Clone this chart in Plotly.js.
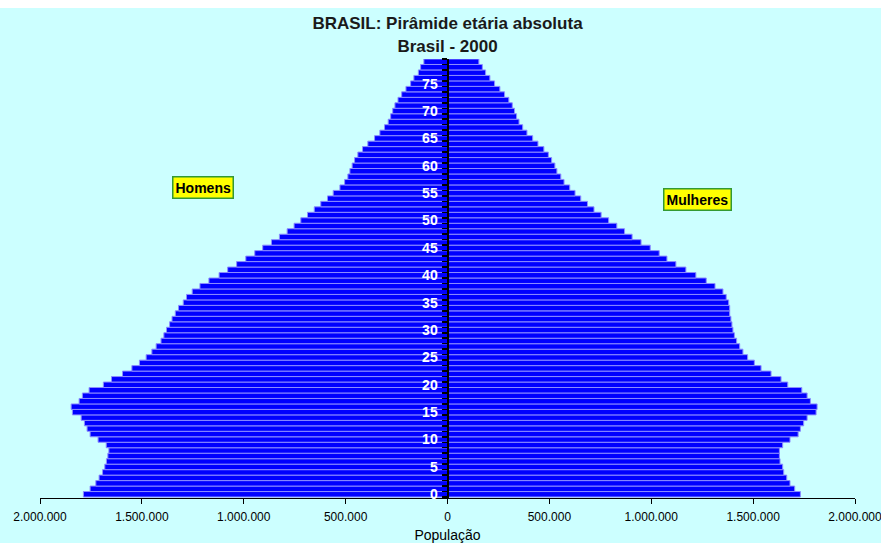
<!DOCTYPE html>
<html>
<head>
<meta charset="utf-8">
<script src="https://cdn.plot.ly/plotly-3.0.1.min.js"></script>
<style>
  html, body { margin: 0; padding: 0; background: #ffffff; width: 881px; height: 547px; overflow: hidden; }
  #chart { position: absolute; left: 0; top: 8px; width: 881px; height: 535px; }
</style>
</head>
<body>
<div id="chart"></div>
<script>
const ages = [0,1,2,3,4,5,6,7,8,9,10,11,12,13,14,15,16,17,18,19,20,21,22,23,24,25,26,27,28,29,
  30,31,32,33,34,35,36,37,38,39,40,41,42,43,44,45,46,47,48,49,50,51,52,53,54,55,56,57,58,59,
  60,61,62,63,64,65,66,67,68,69,70,71,72,73,74,75,76,77,78,79];

const homens = [
  1787000,1754000,1726000,1710000,1693000,1682000,1674000,1667000,1662000,1675000,
  1715000,1754000,1769000,1782000,1798000,1841000,1847000,1808000,1792000,1759000,
  1689000,1649000,1595000,1549000,1512000,1479000,1451000,1430000,1406000,1392000,
  1379000,1364000,1352000,1336000,1320000,1297000,1281000,1253000,1215000,1171000,
  1121000,1079000,1035000,990000,946000,907000,864000,825000,787000,753000,
  720000,687000,654000,622000,589000,561000,528000,505000,489000,479000,
  468000,456000,440000,417000,391000,358000,332000,309000,291000,279000,
  269000,258000,243000,225000,204000,181000,165000,143000,132000,116000];

const mulheres = [
  1732000,1704000,1681000,1665000,1650000,1645000,1632000,1629000,1629000,1645000,
  1681000,1721000,1732000,1748000,1765000,1809000,1814000,1781000,1765000,1739000,
  1670000,1637000,1588000,1539000,1506000,1473000,1450000,1434000,1419000,1408000,
  1401000,1396000,1391000,1385000,1385000,1380000,1368000,1352000,1313000,1270000,
  1219000,1170000,1121000,1077000,1039000,995000,950000,906000,869000,831000,
  791000,754000,719000,687000,654000,626000,600000,572000,556000,537000,
  527000,511000,495000,473000,444000,418000,390000,369000,351000,339000,
  329000,318000,301000,280000,257000,231000,208000,187000,171000,154000];

const xTickVals = [-2000000,-1500000,-1000000,-500000,0,500000,1000000,1500000,2000000];
const xTickText = ['2.000.000','1.500.000','1.000.000','500.000','0','500.000','1.000.000','1.500.000','2.000.000'];
const yTickVals = [0,5,10,15,20,25,30,35,40,45,50,55,60,65,70,75];

const FONT = '"Liberation Sans", Arial, Helvetica, sans-serif';

const barStyle = { color: '#0000ff', line: { color: '#8c8cff', width: 1 } };

const traces = [
  {
    type: 'bar', orientation: 'h', name: 'Homens',
    y: ages, x: homens.map(v => -v),
    marker: barStyle, width: 1, hoverinfo: 'skip'
  },
  {
    type: 'bar', orientation: 'h', name: 'Mulheres',
    y: ages, x: mulheres,
    marker: barStyle, width: 1, hoverinfo: 'skip'
  }
];

const layout = {
  width: 881, height: 535,
  paper_bgcolor: '#ccffff',
  plot_bgcolor: 'rgba(0,0,0,0)',
  margin: { l: 40, r: 26, t: 51, b: 45 },
  showlegend: false,
  barmode: 'overlay',
  bargap: 0,
  font: { family: FONT, color: '#000' },
  title: {
    text: 'BRASIL: Pirâmide etária absoluta<br>Brasil - 2000',
    font: { family: FONT, size: 17, color: '#1a1a1a', weight: 'bold' },
    x: 0.5, xref: 'paper', xanchor: 'center',
    y: 0.96, yref: 'container', yanchor: 'top'
  },
  xaxis: {
    range: [-2000000, 2000000],
    tickmode: 'array', tickvals: xTickVals, ticktext: xTickText,
    ticks: 'outside', ticklen: 5, tickcolor: '#000', tickwidth: 1,
    showline: true, linecolor: '#000', linewidth: 1,
    showgrid: false, zeroline: false,
    tickfont: { family: FONT, size: 12, color: '#000' },
    ticklabelstandoff: 3,
    ticklabeloverflow: 'allow',
    title: { text: 'População', font: { family: FONT, size: 14, color: '#000' }, standoff: 6 },
    fixedrange: true
  },
  yaxis: {
    range: [-0.68, 79.5],
    anchor: 'free', position: 0.5, side: 'left',
    tickmode: 'array', tickvals: yTickVals,
    ticks: '',
    minor: { tickmode: 'linear', tick0: 0.5, dtick: 1, ticks: 'outside', ticklen: 5, tickcolor: '#000', tickwidth: 1.5, showgrid: false },
    showline: true, linecolor: '#000', linewidth: 2,
    showgrid: false, zeroline: false,
    tickfont: { family: FONT, size: 14, color: '#ffffff', weight: 'bold' },
    ticklabelstandoff: 6,
    fixedrange: true
  },
  annotations: [
    {
      x: -1202000, y: 56.1, xref: 'x', yref: 'y', text: 'Homens', showarrow: false,
      font: { family: FONT, size: 14, color: '#000', weight: 'bold' },
      bgcolor: '#ffff00', bordercolor: '#339933', borderwidth: 1.5, borderpad: 2
    },
    {
      x: 1226000, y: 53.8, xref: 'x', yref: 'y', text: 'Mulheres', showarrow: false,
      font: { family: FONT, size: 14, color: '#000', weight: 'bold' },
      bgcolor: '#ffff00', bordercolor: '#339933', borderwidth: 1.5, borderpad: 2
    }
  ]
};

Plotly.newPlot('chart', traces, layout, { displayModeBar: false, staticPlot: true });
</script>
</body>
</html>
